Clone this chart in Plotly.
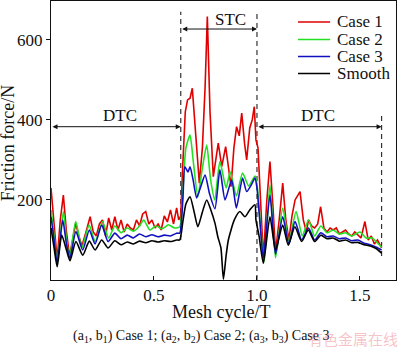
import plotly.graph_objects as go

# ---- data ----
smooth_x = [0, 0.015, 0.03, 0.052, 0.075, 0.092, 0.121, 0.154, 0.186, 0.214,
            0.246, 0.277, 0.31, 0.34, 0.37, 0.40, 0.43, 0.46, 0.49, 0.52,
            0.55, 0.58, 0.61, 0.625, 0.64, 0.655, 0.675, 0.695, 0.713, 0.735,
            0.756, 0.776, 0.796, 0.81, 0.825, 0.837, 0.85, 0.861, 0.89, 0.917,
            0.942, 0.965, 0.99, 0.995, 1.01, 1.031, 1.063, 1.09, 1.125, 1.152,
            1.184, 1.217, 1.249, 1.28, 1.31, 1.34, 1.37, 1.40, 1.43, 1.46,
            1.49, 1.52, 1.55, 1.58, 1.605]
smooth_y = [130, 80, 33, 112, 75, 48, 96, 62, 97, 75,
            100, 80, 98, 88, 95, 90, 97, 93, 98, 95,
            98, 96, 100, 100, 145, 190, 208, 170, 133, 170,
            200, 175, 142, 108, 80, 2, 60, 100, 150, 171,
            158, 175, 188, 150, 110, 42, 158, 75, 137, 87,
            133, 96, 125, 96, 112, 103, 105, 97, 100, 93,
            94, 88, 85, 78, 67]

case3_x = [0, 0.015, 0.03, 0.057, 0.075, 0.092, 0.121, 0.154, 0.186, 0.214,
           0.246, 0.277, 0.31, 0.34, 0.37, 0.40, 0.43, 0.46, 0.49, 0.52,
           0.55, 0.58, 0.61, 0.625, 0.64, 0.65, 0.665, 0.675, 0.69, 0.707,
           0.725, 0.748, 0.77, 0.796, 0.82, 0.845, 0.877, 0.9, 0.93, 0.95,
           0.975, 0.99, 1.0, 1.015, 1.031, 1.063, 1.09, 1.125, 1.155, 1.185,
           1.217, 1.25, 1.28, 1.31, 1.34, 1.37, 1.40, 1.43, 1.46, 1.49,
           1.52, 1.55, 1.58, 1.605]
case3_y = [158, 100, 42, 150, 90, 55, 121, 75, 125, 90,
           137, 96, 117, 103, 112, 105, 115, 108, 113, 108,
           112, 110, 117, 117, 200, 283, 270, 283, 250, 205,
           230, 262, 215, 178, 275, 200, 250, 180, 255, 221,
           240, 255, 230, 140, 55, 212, 65, 158, 90, 146,
           100, 130, 100, 118, 108, 110, 103, 105, 98, 100,
           92, 88, 82, 75]

case2_x = [0, 0.015, 0.03, 0.06, 0.075, 0.09, 0.12, 0.15, 0.185, 0.215,
           0.25, 0.28, 0.31, 0.34, 0.37, 0.40, 0.43, 0.45, 0.48, 0.51,
           0.54, 0.57, 0.60, 0.625, 0.64, 0.655, 0.675, 0.69, 0.713, 0.735,
           0.756, 0.775, 0.795, 0.82, 0.85, 0.87, 0.9, 0.93, 0.96, 0.99,
           1.0, 1.015, 1.035, 1.063, 1.09, 1.125, 1.155, 1.19, 1.22, 1.25,
           1.28, 1.31, 1.34, 1.37, 1.40, 1.43, 1.46, 1.5, 1.53, 1.56,
           1.58, 1.605]
case2_y = [175, 110, 45, 171, 100, 55, 146, 80, 137, 96,
           146, 105, 135, 118, 130, 122, 135, 150, 125, 135,
           128, 138, 130, 133, 220, 330, 362, 300, 208, 280,
           337, 250, 200, 296, 230, 270, 210, 267, 235, 260,
           240, 150, 46, 237, 55, 180, 95, 171, 110, 150,
           110, 135, 118, 125, 115, 118, 110, 120, 105, 105,
           95, 82]

case1_x = [0, 0.015, 0.03, 0.045, 0.06, 0.075, 0.09, 0.105, 0.12, 0.135,
           0.15, 0.17, 0.19, 0.205, 0.22, 0.235, 0.25, 0.265, 0.28, 0.295,
           0.31, 0.325, 0.34, 0.355, 0.37, 0.385, 0.40, 0.415, 0.43, 0.445,
           0.46, 0.475, 0.49, 0.505, 0.52, 0.535, 0.55, 0.565, 0.58, 0.595,
           0.61, 0.62, 0.63, 0.64, 0.652, 0.663, 0.675, 0.686, 0.697, 0.707,
           0.72, 0.735, 0.748, 0.759, 0.772, 0.788, 0.80, 0.812, 0.829, 0.848,
           0.862, 0.874, 0.888, 0.901, 0.914, 0.926, 0.94, 0.95, 0.965, 0.977,
           0.987, 0.995, 1.005, 1.018, 1.031, 1.048, 1.063, 1.078, 1.09, 1.108,
           1.125, 1.14, 1.155, 1.17, 1.185, 1.209, 1.225, 1.24, 1.25, 1.265,
           1.28, 1.295, 1.309, 1.325, 1.34, 1.355, 1.37, 1.385, 1.40, 1.415,
           1.43, 1.445, 1.46, 1.475, 1.49, 1.505, 1.524, 1.54, 1.555, 1.57,
           1.585, 1.605]
case1_y = [230, 130, 50, 150, 212, 120, 60, 100, 142, 110,
           85, 120, 158, 120, 110, 140, 150, 110, 155, 125,
           158, 125, 150, 120, 140, 130, 125, 150, 135, 165,
           171, 140, 150, 130, 140, 125, 160, 145, 175, 140,
           180, 150, 160, 290, 420, 450, 454, 479, 400, 317,
           242, 330, 480, 658, 420, 258, 300, 342, 283, 333,
           280, 233, 330, 383, 360, 417, 340, 300, 380, 400,
           433, 350, 330, 200, 55, 200, 296, 180, 70, 150,
           242, 150, 100, 160, 200, 221, 150, 120, 150, 135,
           130, 140, 183, 130, 120, 130, 125, 130, 115, 120,
           125, 115, 110, 120, 112, 105, 146, 100, 110, 90,
           100, 80]

series_names = ["Case 1", "Case 2", "Case 3", "Smooth"]
series_colors = ["#e00000", "#22e022", "#1010c0", "#000000"]

x_tick_vals = [0, 0.5, 1.0, 1.5]
x_tick_text = ["0", "0.5", "1.0", "1.5"]
y_tick_vals = [200, 400, 600]

boundaries = [0.63, 1.0, 1.605]
region_labels = ["DTC", "STC", "DTC"]

FONT = "Liberation Serif, Times New Roman, serif"

fig = go.Figure()
data = [(case1_x, case1_y, "linear"), (case2_x, case2_y, "spline"),
        (case3_x, case3_y, "spline"), (smooth_x, smooth_y, "spline")]
for (xs, ys, shape), name, col in zip(data, series_names, series_colors):
    assert len(xs) == len(ys), name
    fig.add_trace(go.Scatter(x=xs, y=ys, mode="lines", name=name,
                             line=dict(color=col, width=1.6, shape=shape,
                                       smoothing=0.6 if shape == "spline" else None),
                             showlegend=False))

# dashed boundary lines
dash_col = "#333333"
dash_spans = [(100, 670), (0, 670), (60, 417)]
for bx, (y0, y1) in zip(boundaries, dash_spans):
    fig.add_shape(type="line", xref="x", yref="y", x0=bx, x1=bx, y0=y0, y1=y1,
                  line=dict(color=dash_col, width=1.2, dash="5px,4px"), layer="below")

# double arrows
arrows = [(0.0, boundaries[0], 383), (boundaries[0], boundaries[1], 627),
          (boundaries[1], boundaries[2], 383)]
for x0, x1, yv in arrows:
    fig.add_annotation(x=x1, y=yv, ax=x0, ay=yv, xref="x", yref="y", axref="x", ayref="y",
                       text="", showarrow=True, arrowhead=2, arrowside="end+start",
                       arrowsize=1, arrowwidth=1, arrowcolor="#111111")

label_pos = [(0.335, 412), (0.871, 652), (1.296, 410)]
for (lx, ly), lab in zip(label_pos, region_labels):
    fig.add_annotation(x=lx, y=ly, xref="x", yref="y", text=lab, showarrow=False,
                       font=dict(family=FONT, size=17, color="#111111"))

# legend (drawn manually to match spacing)
leg_y = [0.925, 0.862, 0.801, 0.740]
for name, col, ly in zip(series_names, series_colors, leg_y):
    fig.add_shape(type="line", xref="paper", yref="paper", x0=0.716, x1=0.809,
                  y0=ly, y1=ly, line=dict(color=col, width=1.6))
    fig.add_annotation(x=0.822, y=ly, xref="paper", yref="paper", text=name,
                       showarrow=False, xanchor="left", yanchor="middle",
                       font=dict(family=FONT, size=17, color="#111111"))

# axis titles
fig.add_annotation(x=0.493, y=-0.114, xref="paper", yref="paper", text="Mesh cycle/T",
                   showarrow=False, xanchor="center", yanchor="middle",
                   font=dict(family=FONT, size=18, color="#111111"))
fig.add_annotation(x=-0.125, y=0.49, xref="paper", yref="paper", text="Friction force/N",
                   showarrow=False, xanchor="center", yanchor="middle", textangle=-90,
                   font=dict(family=FONT, size=18, color="#111111"))

# caption and watermark
fig.add_annotation(x=0.436, y=-0.204, xref="paper", yref="paper",
                   text="(a<sub>1</sub>, b<sub>1</sub>) Case 1; (a<sub>2</sub>, b<sub>2</sub>) Case 2; (a<sub>3</sub>, b<sub>3</sub>) Case 3",
                   showarrow=False, xanchor="center", yanchor="middle",
                   font=dict(family=FONT, size=14, color="#111111"))
fig.add_annotation(x=0.74, y=-0.21, xref="paper", yref="paper", text="有色金属在线",
                   showarrow=False, xanchor="left", yanchor="middle",
                   font=dict(family="Noto Sans CJK SC", size=15, color="rgba(235,120,130,0.45)"))

fig.update_layout(
    width=400, height=347,
    margin=dict(l=51, r=4, t=1, b=67),
    paper_bgcolor="white", plot_bgcolor="white",
    font=dict(family=FONT, size=17, color="#111111"),
    showlegend=False,
    xaxis=dict(range=[0, 1.675], tickvals=x_tick_vals, ticktext=x_tick_text,
               ticks="inside", ticklen=4, tickcolor="#111111", showline=True,
               linecolor="#111111", linewidth=1, mirror=True, showgrid=False,
               zeroline=False, tickfont=dict(family=FONT, size=17)),
    yaxis=dict(range=[0, 697], tickvals=y_tick_vals, ticks="outside", ticklen=4,
               tickcolor="#111111", showline=True, linecolor="#111111", linewidth=1,
               mirror=True, showgrid=False, zeroline=False,
               tickfont=dict(family=FONT, size=17)),
)

fig.write_html("out.html")
